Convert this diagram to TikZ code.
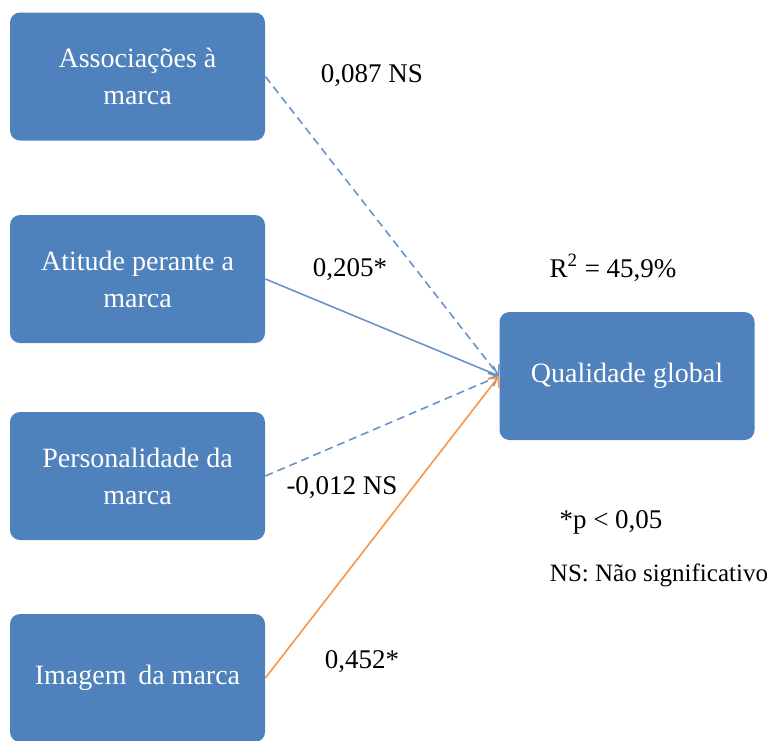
\documentclass[tikz,border=0pt]{standalone}
\usepackage{fontspec}
\setmainfont{Liberation Serif}
\usetikzlibrary{arrows.meta}
\definecolor{boxblue}{RGB}{79,129,189}
\definecolor{lineorange}{RGB}{247,150,70}

\begin{document}
\begin{tikzpicture}[x=0.5pt,y=-0.5pt]
\tikzset{box/.style = {shape=rectangle,rounded corners=5pt,fill=boxblue,text=white,
  minimum width=127.5pt,minimum height=64pt,align=center,font=\fontsize{14}{18.5}\selectfont}}
\tikzset{edge/.style = {-{Straight Barb[length=4pt,width=7pt]},line width=0.8pt,draw=boxblue!85!white}}
\tikzset{nsedge/.style = {edge,dash pattern=on 4pt off 2.5pt}}
\tikzset{label/.style = {font=\fontsize{13.5}{16}\selectfont}}
\useasboundingbox (0,0) rectangle (771,740);
% vertices
\node[box] (A) at (137.5,76.5) {Associações à\\marca};
\node[box] (B) at (137.5,279) {Atitude perante a\\marca};
\node[box] (C) at (137.5,476) {Personalidade da\\marca};
\node[box] (D) at (137.5,678) {Imagem\ \,da marca};
\node[box] (Q) at (627,376) {Qualidade global};

\draw [nsedge] (A.east) to (Q.west);
\draw [edge] (B.east) to (Q.west);
\draw [nsedge] (C.east) to (Q.west);
\draw [edge,draw=lineorange] (D.east) to (Q.west);

% labels
\node[label] (lA) at (372,76) {0,087 NS};
\node[label] (lB) at (350,270) {0,205*};
\node[label] (lC) at (342,488) {-0,012 NS};
\node[label] (lD) at (362,662) {0,452*};
\node[label] (R2) at (613,268) {R\textsuperscript{2} = 45,9\%};
\node[label] (p) at (611,522) {*p < 0,05};
\node[label,font=\fontsize{12.5}{15}\selectfont] (NS) at (659,575) {NS: Não significativo};
\end{tikzpicture}
\end{document}
